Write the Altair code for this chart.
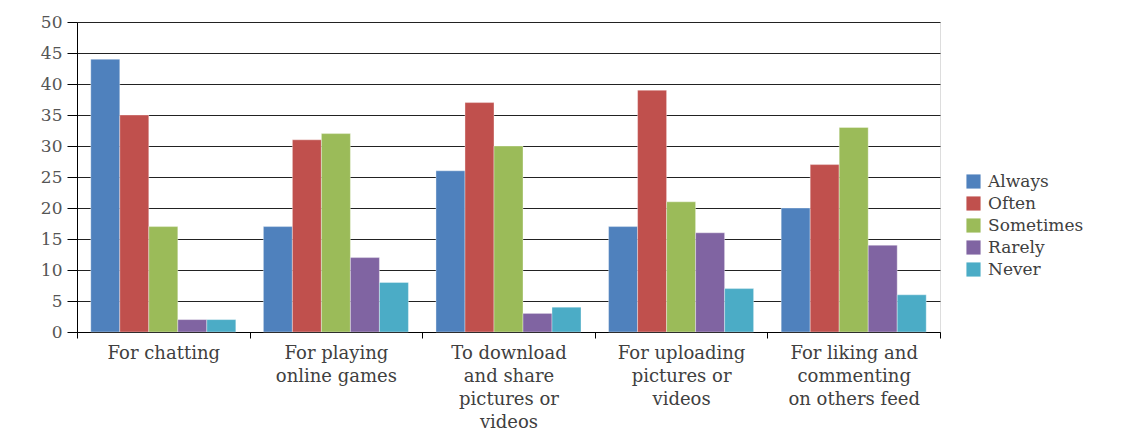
import altair as alt
import pandas as pd

categories = [
    "For chatting",
    "For playing\nonline games",
    "To download\nand share\npictures or\nvideos",
    "For uploading\npictures or\nvideos",
    "For liking and\ncommenting\non others feed",
]
series = ["Always", "Often", "Sometimes", "Rarely", "Never"]
colors = ["#4F81BD", "#C0504D", "#9BBB59", "#8064A2", "#4BACC6"]

always = [44, 17, 26, 17, 20]
often = [35, 31, 37, 39, 27]
sometimes = [17, 32, 30, 21, 33]
rarely = [2, 12, 3, 16, 14]
never = [2, 8, 4, 7, 6]

values = [always, often, sometimes, rarely, never]
rows = []
for s, vals in zip(series, values):
    for c, v in zip(categories, vals):
        rows.append({"category": c, "series": s, "value": v})
df = pd.DataFrame(rows)

FONT = "DejaVu Serif"

chart = alt.Chart(df).mark_bar(stroke="#ffffff", strokeWidth=0.6, strokeOpacity=0.6).encode(
    x=alt.X(
        "category:N",
        sort=categories,
        title=None,
        scale=alt.Scale(paddingInner=0, paddingOuter=0),
        axis=alt.Axis(
            labelAngle=0,
            labelExpr="split(datum.label, '\\n')",
            labelFont=FONT,
            labelFontSize=18,
            labelColor="#404040",
            labelLineHeight=23,
            labelPadding=6,
            tickBand="extent",
            tickSize=6,
            tickColor="#000000",
            domainColor="#000000",
            grid=False,
        ),
    ),
    xOffset=alt.XOffset("series:N", sort=series, scale=alt.Scale(paddingInner=0, paddingOuter=0.475)),
    y=alt.Y(
        "value:Q",
        title=None,
        scale=alt.Scale(domain=[0, 50]),
        axis=alt.Axis(
            values=list(range(0, 51, 5)),
            labelFont=FONT,
            labelFontSize=17,
            labelColor="#555555",
            labelPadding=5,
            tickSize=10,
            tickColor="#000000",
            domainColor="#000000",
            grid=True,
            gridColor="#222222",
            gridWidth=1,
        ),
    ),
    color=alt.Color(
        "series:N",
        sort=series,
        scale=alt.Scale(domain=series, range=colors),
        legend=alt.Legend(
            title=None,
            orient="none",
            legendX=888,
            legendY=151,
            symbolType="square",
            symbolSize=200,
            symbolStrokeWidth=0,
            labelFont=FONT,
            labelFontSize=17,
            labelColor="#404040",
            labelOffset=6,
            rowPadding=4,
        ),
    ),
).properties(
    width=863,
    height=310,
    autosize=alt.AutoSizeParams(type="none"),
    padding={"left": 77, "top": 22, "right": 188, "bottom": 114},
).configure_view(stroke=None).configure(background="#ffffff")

chart.save("out.html", embed_options={"renderer": "svg", "actions": False})
